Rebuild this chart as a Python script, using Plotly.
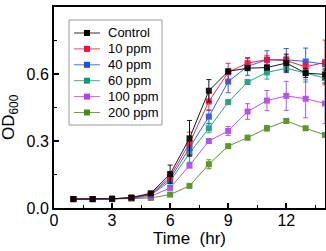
import plotly.graph_objects as go

time = list(range(1, 15))
names = ["Control", "10 ppm", "40 ppm", "60 ppm", "100 ppm", "200 ppm"]
colors = ["#000000", "#f0103c", "#1f4fe8", "#129a78", "#b23ff0", "#4a8c16"]

control = [0.040, 0.040, 0.041, 0.047, 0.066, 0.152, 0.312, 0.525, 0.612, 0.626, 0.629, 0.649, 0.604, 0.598]
ppm10 = [0.040, 0.040, 0.041, 0.045, 0.062, 0.140, 0.290, 0.477, 0.608, 0.649, 0.664, 0.660, 0.632, 0.652]
ppm40 = [0.040, 0.040, 0.041, 0.045, 0.060, 0.130, 0.268, 0.409, 0.566, 0.634, 0.664, 0.664, 0.656, 0.644]
ppm60 = [0.040, 0.040, 0.041, 0.045, 0.058, 0.120, 0.245, 0.357, 0.474, 0.564, 0.607, 0.626, 0.604, 0.582]
ppm100 = [0.040, 0.040, 0.041, 0.044, 0.052, 0.090, 0.190, 0.300, 0.345, 0.432, 0.481, 0.502, 0.489, 0.468]
ppm200 = [0.040, 0.040, 0.040, 0.042, 0.045, 0.060, 0.099, 0.196, 0.277, 0.315, 0.357, 0.390, 0.357, 0.327]

err_control = [0.004, 0.004, 0.004, 0.005, 0.006, 0.040, 0.080, 0.050, 0.010, 0.010, 0.010, 0.040, 0.020, 0.020]
err_10 = [0.004, 0.004, 0.004, 0.004, 0.005, 0.020, 0.050, 0.040, 0.040, 0.020, 0.020, 0.020, 0.020, 0.100]
err_40 = [0.004, 0.004, 0.004, 0.004, 0.005, 0.020, 0.030, 0.030, 0.050, 0.040, 0.040, 0.050, 0.060, 0.020]
err_60 = [0.004, 0.004, 0.004, 0.004, 0.005, 0.020, 0.040, 0.020, 0.010, 0.010, 0.030, 0.020, 0.040, 0.020]
err_100 = [0.004, 0.004, 0.004, 0.004, 0.004, 0.010, 0.010, 0.010, 0.020, 0.035, 0.045, 0.065, 0.085, 0.090]
err_200 = [0.003, 0.003, 0.003, 0.003, 0.004, 0.005, 0.008, 0.020, 0.008, 0.010, 0.012, 0.010, 0.008, 0.010]

series = [control, ppm10, ppm40, ppm60, ppm100, ppm200]
errors = [err_control, err_10, err_40, err_60, err_100, err_200]

x_ticks = [0, 3, 6, 9, 12]
y_ticks = [0.0, 0.3, 0.6, 0.9]
y_labels = ["0.0", "0.3", "0.6", "0.9"]

W, H = 326, 251
ML, MR, MT, MB = 54, 1, 7, 43
PW, PH = W - ML - MR, H - MT - MB

fig = go.Figure()
for i in reversed(range(len(names))):
    fig.add_trace(go.Scatter(
        x=time, y=series[i], name=names[i], mode="lines+markers",
        line=dict(color=colors[i], width=1),
        marker=dict(symbol="square", size=6, color=colors[i]),
        error_y=dict(type="data", array=errors[i], color=colors[i], thickness=1, width=2.5),
        opacity=0.9, showlegend=False,
    ))

# Manual legend box (pixel layout converted to paper coordinates)
def px(xp):
    return (xp - ML) / PW

def py(yp):
    return (H - MB - yp) / PH

fig.add_shape(type="rect", xref="paper", yref="paper",
              x0=px(69), x1=px(162), y0=py(125), y1=py(20),
              line=dict(color="#9a9a9a", width=1), fillcolor="white", layer="above")
for i, (nm, col) in enumerate(zip(names, colors)):
    yc = 33 + i * 15.9
    fig.add_shape(type="line", xref="paper", yref="paper",
                  x0=px(74), x1=px(100), y0=py(yc), y1=py(yc),
                  line=dict(color=col, width=1), opacity=0.8, layer="above")
    fig.add_shape(type="rect", xref="paper", yref="paper",
                  x0=px(84), x1=px(90), y0=py(yc + 3), y1=py(yc - 3),
                  line=dict(width=0), fillcolor=col, layer="above")
    fig.add_annotation(xref="paper", yref="paper", x=px(106), y=py(yc),
                       xanchor="left", yanchor="middle", text=nm, showarrow=False,
                       font=dict(family="Liberation Sans, Arial", size=13, color="black"))

# y-axis title placed as rotated text
fig.add_annotation(xref="paper", yref="paper", x=px(10), y=py(117),
                   xanchor="center", yanchor="middle", textangle=-90,
                   text="OD<sub>600</sub>", showarrow=False,
                   font=dict(family="Liberation Sans, Arial", size=17, color="black"))

axis_common = dict(
    showline=True, linecolor="black", linewidth=2, mirror=True,
    ticks="inside", ticklen=5, tickwidth=1.5, tickcolor="black",
    showgrid=False, zeroline=False, automargin=False,
    tickfont=dict(family="Liberation Sans, Arial", size=16, color="black"),
)

fig.update_layout(
    width=W, height=H,
    margin=dict(l=ML, r=MR, t=MT, b=MB, autoexpand=False),
    paper_bgcolor="white", plot_bgcolor="white",
    font=dict(family="Liberation Sans, Arial", color="black"),
    xaxis=dict(range=[0, 14], tickvals=x_ticks, ticklabelstandoff=-3,
               minor=dict(ticks="inside", ticklen=3, tickwidth=1, tickcolor="black", dtick=1.5, tick0=0),
               title=dict(text="Time\u00a0\u00a0(hr)", font=dict(size=17), standoff=0),
               **axis_common),
    yaxis=dict(range=[0, 0.9], tickvals=y_ticks, ticktext=y_labels,
               minor=dict(ticks="inside", ticklen=3, tickwidth=1, tickcolor="black", dtick=0.15, tick0=0),
               **axis_common),
    showlegend=False,
)

fig.write_html("out.html", config={"displayModeBar": False},
               post_script="document.body.style.margin='0px';")
